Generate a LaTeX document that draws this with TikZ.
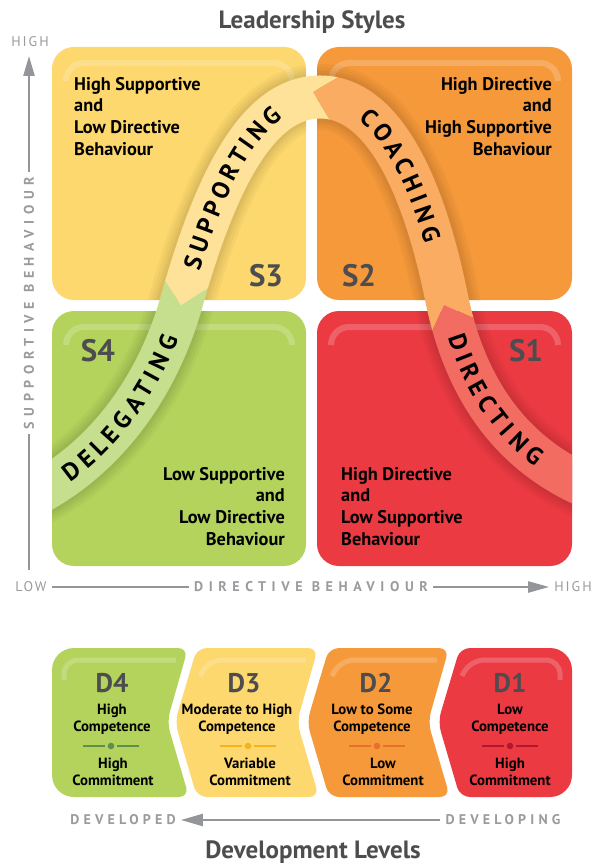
\documentclass[tikz,border=0pt]{standalone}
\usepackage{fontspec}
\setmainfont{PT Sans}
\newfontfamily\axisfont[LetterSpace=40]{PT Sans}
\newfontfamily\axisfontc[LetterSpace=30]{PT Sans}
\newfontfamily\axisfontb[LetterSpace=14]{PT Sans}
\usetikzlibrary{arrows.meta,decorations.markings}
\definecolor{qgreen}{HTML}{B3D35C}
\definecolor{qyellow}{HTML}{FDD86E}
\definecolor{qorange}{HTML}{F6993A}
\definecolor{qred}{HTML}{EC3A43}
\definecolor{bgreen}{HTML}{C5DF8E}
\definecolor{byellow}{HTML}{FEE29A}
\definecolor{borange}{HTML}{F9AC62}
\definecolor{bred}{HTML}{F26C62}
\definecolor{dgray}{HTML}{4D4D4F}
\definecolor{axtext}{HTML}{9A9B9E}
\definecolor{axline}{HTML}{939598}
\definecolor{sepgreen}{HTML}{5E8F4E}
\definecolor{sepyellow}{HTML}{F7B11A}
\definecolor{seporange}{HTML}{E8702D}
\definecolor{sepred}{HTML}{B4162F}
\begin{document}
\begin{tikzpicture}[x=1pt,y=-1pt,
  quadtext/.style={font=\bfseries\fontsize{18.3}{21.7}\selectfont, inner sep=0pt, text=black},
  slabel/.style={font=\bfseries\fontsize{31}{31}\selectfont, text=dgray, inner sep=0pt},
  dlabel/.style={font=\bfseries\fontsize{27}{27}\selectfont, text=dgray, inner sep=0pt},
  dtext/.style={font=\bfseries\fontsize{14.8}{16.5}\selectfont, align=center, inner sep=0pt, anchor=north, text=black},
  axislbl/.style={font=\axisfont\bfseries\fontsize{14}{14}\selectfont, text=axtext, inner sep=5pt},
  axislblc/.style={font=\axisfontc\bfseries\fontsize{14}{14}\selectfont, text=axtext, inner sep=5pt},
  axislblb/.style={font=\axisfontb\fontsize{14}{14}\selectfont, text=axtext, inner sep=5pt},
  axisline/.style={draw=axline, line width=2.3pt},
  title/.style={font=\bfseries\fontsize{25}{25}\selectfont, text=dgray, inner sep=0pt, anchor=base},
  hl/.style={draw=white, draw opacity=.2, line width=6pt, rounded corners=18pt},
  band/.style={line width=43pt},
  quad/.style={rounded corners=22pt},
  chev/.style={rounded corners=10pt},
  shadow/.style={draw=black, draw opacity=.03},
  bl/.style={transform shape, inner sep=0pt, text=black, font=\bfseries\fontsize{24.5}{24.5}\selectfont}
]
\useasboundingbox (0,0) rectangle (596,866);
\fill[white] (0,0) rectangle (596,866);

% ---------- quadrants
\fill[qyellow, quad] (52,47) rectangle (306,300);
\fill[qorange, quad] (317,47) rectangle (572,300);
\fill[qgreen, quad] (52,311) rectangle (306,566);
\fill[qred, quad] (317,311) rectangle (572,566);
\foreach \xa/\xb/\ya in {52/306/47, 317/572/47, 52/306/311, 317/572/311}{
  \draw[hl] (\xa+14,\ya+34) -- (\xa+14,\ya+16) -- (\xb-14,\ya+16) -- (\xb-14,\ya+34);
}

% ---------- band shadow
\begin{scope}
  \clip[quad] (52,47) rectangle (306,300) (317,47) rectangle (572,300)
              (52,311) rectangle (306,566) (317,311) rectangle (572,566);
  \foreach \w in {66,60,54,49}{
  \draw[shadow, line width=\w pt] (30,497) .. controls (110,457) and (160,380) .. (182,300)
     .. controls (216,180) and (258,97) .. (320,97) .. controls (385,97) and (425,190) .. (447,300)
     .. controls (468,400) and (520,460) .. (595,490);
  }
\end{scope}

% ---------- band
\begin{scope}
  \clip (52,0) rectangle (572,866);
  \begin{scope}
    \clip (0,273) -- (160,273) -- (181,305) -- (216,283) -- (300,240) -- (300,700) -- (0,700) -- cycle;
    \draw[band, bgreen] (30,497) .. controls (110,457) and (160,380) .. (182,300)
     .. controls (216,180) and (258,97) .. (320,97) .. controls (385,97) and (425,190) .. (447,300)
     .. controls (468,400) and (520,460) .. (595,490);
  \end{scope}
  \begin{scope}
    \clip (0,-20) -- (352,-20) -- (352,69) -- (313,92) -- (334,127) -- (300,240) -- (216,283) -- (181,305) -- (160,273) -- (0,273) -- cycle;
    \draw[band, byellow] (30,497) .. controls (110,457) and (160,380) .. (182,300)
     .. controls (216,180) and (258,97) .. (320,97) .. controls (385,97) and (425,190) .. (447,300)
     .. controls (468,400) and (520,460) .. (595,490);
  \end{scope}
  \begin{scope}
    \clip (313,92) -- (352,69) -- (352,-20) -- (700,-20) -- (700,323) -- (485,323) -- (444,305) -- (428,340) -- (380,340) -- (334,127) -- cycle;
    \draw[band, borange] (30,497) .. controls (110,457) and (160,380) .. (182,300)
     .. controls (216,180) and (258,97) .. (320,97) .. controls (385,97) and (425,190) .. (447,300)
     .. controls (468,400) and (520,460) .. (595,490);
  \end{scope}
  \begin{scope}
    \clip (485,323) -- (444,305) -- (428,340) -- (380,340) -- (380,700) -- (700,700) -- (700,323) -- cycle;
    \draw[band, bred] (30,497) .. controls (110,457) and (160,380) .. (182,300)
     .. controls (216,180) and (258,97) .. (320,97) .. controls (385,97) and (425,190) .. (447,300)
     .. controls (468,400) and (520,460) .. (595,490);
  \end{scope}
\end{scope}

% ---------- band labels (letters set along the band)
\path[decorate, decoration={markings,
  mark=at position 49.6pt with {\node[bl] {D};},
  mark=at position 68.4pt with {\node[bl] {E};},
  mark=at position 85.4pt with {\node[bl] {L};},
  mark=at position 102.3pt with {\node[bl] {E};},
  mark=at position 121.1pt with {\node[bl] {G};},
  mark=at position 140.9pt with {\node[bl] {A};},
  mark=at position 159.4pt with {\node[bl] {T};},
  mark=at position 174.2pt with {\node[bl] {I};},
  mark=at position 190.9pt with {\node[bl] {N};},
  mark=at position 211.8pt with {\node[bl] {G};}}]
  (30,497) .. controls (110,457) and (160,380) .. (182,300);
\path[decorate, decoration={markings,
  mark=at position 39.2pt with {\node[bl] {S};},
  mark=at position 58.2pt with {\node[bl] {U};},
  mark=at position 77.8pt with {\node[bl] {P};},
  mark=at position 96.4pt with {\node[bl] {P};},
  mark=at position 116.3pt with {\node[bl] {O};},
  mark=at position 136.5pt with {\node[bl] {R};},
  mark=at position 155pt with {\node[bl] {T};},
  mark=at position 169.8pt with {\node[bl] {I};},
  mark=at position 186.5pt with {\node[bl] {N};},
  mark=at position 207.4pt with {\node[bl] {G};}}]
  (182,300) .. controls (216,180) and (258,97) .. (320,97);
\path[decorate, decoration={markings,
  mark=at position 54.8pt with {\node[bl] {C};},
  mark=at position 74.7pt with {\node[bl] {O};},
  mark=at position 94.9pt with {\node[bl] {A};},
  mark=at position 113.8pt with {\node[bl] {C};},
  mark=at position 133.7pt with {\node[bl] {H};},
  mark=at position 150.2pt with {\node[bl] {I};},
  mark=at position 166.9pt with {\node[bl] {N};},
  mark=at position 187.8pt with {\node[bl] {G};}}]
  (320,97) .. controls (385,97) and (425,190) .. (447,300);
\path[decorate, decoration={markings,
  mark=at position 43.6pt with {\node[bl] {D};},
  mark=at position 59.7pt with {\node[bl] {I};},
  mark=at position 75.3pt with {\node[bl] {R};},
  mark=at position 93.6pt with {\node[bl] {E};},
  mark=at position 111.6pt with {\node[bl] {C};},
  mark=at position 129.8pt with {\node[bl] {T};},
  mark=at position 144.6pt with {\node[bl] {I};},
  mark=at position 161.3pt with {\node[bl] {N};},
  mark=at position 182.2pt with {\node[bl] {G};}}]
  (447,300) .. controls (468,400) and (520,460) .. (595,490);

% ---------- quadrant labels and texts
\node[slabel] (s3) at (266,276) {S3};
\node[slabel] (s2) at (359,276) {S2};
\node[slabel] (s4) at (98,351) {S4};
\node[slabel] (s1) at (526,351) {S1};
\node[quadtext, anchor=north west, align=left] (q3) at (74,77) {High Supportive\\and\\Low Directive\\Behaviour};
\node[quadtext, anchor=north east, align=right] (q2) at (552,77) {High Directive\\and\\High Supportive\\Behaviour};
\node[quadtext, anchor=north east, align=right] (q4) at (285,467) {Low Supportive\\and\\Low Directive\\Behaviour};
\node[quadtext, anchor=north west, align=left] (q1) at (341,467) {High Directive\\and\\Low Supportive\\Behaviour};

% ---------- axes
\node[axislblb] (hightop) at (30,42) {HIGH};
\coordinate (vtop) at (29,56);
\coordinate (vbot) at (29,570);
\node[axislbl, rotate=90] (vtext) at (29,303) {SUPPORTIVE BEHAVIOUR};
\draw[axisline, -{Triangle[length=20pt,width=11pt]}] (vtext.east) -- (vtop);
\draw[axisline] (vtext.west) -- (vbot);

\node[axislblb] (low) at (31,587) {LOW};
\node[axislbl] (dirb) at (311,587) {DIRECTIVE BEHAVIOUR};
\node[axislblb] (high) at (573,587) {HIGH};
\draw[axisline] (low.east) -- (dirb.west);
\draw[axisline, -{Triangle[length=21pt,width=11pt]}] (dirb.east) -- (high.west);

% ---------- titles
\node[title] (t1) at (312,29) {Leadership Styles};
\node[title] (t2) at (313,858) {Development Levels};

% ---------- development chevrons
\begin{scope}
  \clip[quad] (52,648) rectangle (260,797);
  \fill[qgreen, chev] (30,648) -- (188,648) -- (167,722) -- (189,797) -- (30,797) -- cycle;
\end{scope}
\fill[qyellow, chev] (197,648) -- (318,648) -- (297,722) -- (319,797) -- (197,797) -- (175,722) -- cycle;
\fill[qorange, chev] (329,648) -- (449,648) -- (428,722) -- (450,797) -- (329,797) -- (307,722) -- cycle;
\begin{scope}
  \clip[quad] (380,648) rectangle (572,797);
  \fill[qred, chev] (460,648) -- (600,648) -- (600,797) -- (460,797) -- (438,722) -- cycle;
\end{scope}
\draw[hl, rounded corners=14pt, line width=5pt] (64,680) -- (64,660) -- (176,660);
\draw[hl, rounded corners=14pt, line width=5pt] (200,676) -- (208,660) -- (306,660);
\draw[hl, rounded corners=14pt, line width=5pt] (332,676) -- (340,660) -- (437,660);
\draw[hl, rounded corners=14pt, line width=5pt] (462,676) -- (470,660) -- (560,660) -- (560,680);

\node[dlabel] (d4) at (112,683) {D4};
\node[dlabel] (d3) at (244,683) {D3};
\node[dlabel] (d2) at (376,683) {D2};
\node[dlabel] (d1) at (510,683) {D1};
\node[dtext] (d4a) at (112,704) {High\\Competence};
\node[dtext] (d4b) at (113,758) {High\\Commitment};
\node[dtext] (d3a) at (237,704) {Moderate to High\\Competence};
\node[dtext] (d3b) at (250,758) {Variable\\Commitment};
\node[dtext] (d2a) at (372,704) {Low to Some\\Competence};
\node[dtext] (d2b) at (383,758) {Low\\Commitment};
\node[dtext] (d1a) at (510,704) {Low\\Competence};
\node[dtext] (d1b) at (510,758) {High\\Commitment};
\foreach \cx/\col in {111/sepgreen, 248/sepyellow, 377/seporange, 510/sepred}{
  \draw[\col, line width=1.4pt] (\cx-28,746) -- (\cx-6,746);
  \draw[\col, line width=1.4pt] (\cx+6,746) -- (\cx+28,746);
  \fill[\col] (\cx,746) circle (3.3);
}

% ---------- development axis
\node[axislblc] (devd) at (123,820) {DEVELOPED};
\node[axislblc] (devg) at (503,820) {DEVELOPING};
\draw[axisline, -{Triangle[length=22pt,width=12pt]}] (devg.west) -- (devd.east);
\end{tikzpicture}
\end{document}
